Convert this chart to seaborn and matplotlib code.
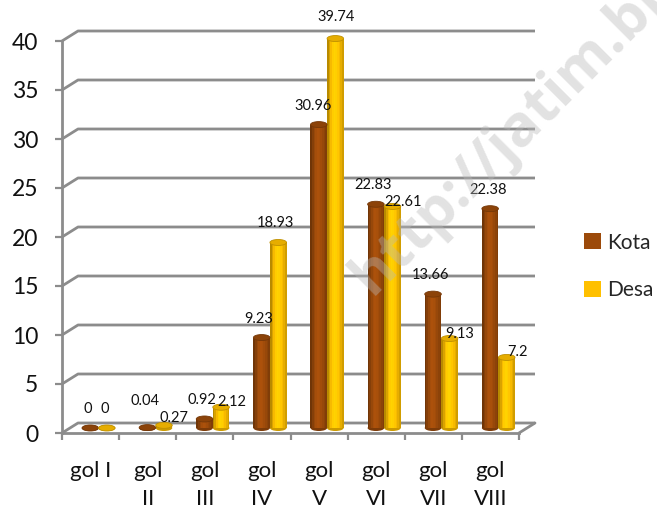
import numpy as np
import pandas as pd
import matplotlib
matplotlib.use("Agg")
import matplotlib.pyplot as plt
import matplotlib.transforms as mtransforms
from matplotlib.patches import Ellipse, Patch, Rectangle
import seaborn as sns

# ---------------- data ----------------
categories = ["gol I", "gol\nII", "gol\nIII", "gol\nIV", "gol\nV", "gol\nVI", "gol\nVII", "gol\nVIII"]
kota = [0, 0.04, 0.92, 9.23, 30.96, 22.83, 13.66, 22.38]
desa = [0, 0.27, 2.12, 18.93, 39.74, 22.61, 9.13, 7.2]
series_names = ["Kota", "Desa"]
y_ticks = [0, 5, 10, 15, 20, 25, 30, 35, 40]

# label nudges in pixels (dx, dy) – reproduce the original label placement
kota_nudge = [(0, 0), (0, 8), (0, 0), (0, 0), (-3, 0), (0, 0), (0, 0), (0, 0)]
desa_nudge = [(0, 0), (13, -12), (13, -14), (0, 0), (3, 3), (13, -15), (13, -14), (13, -14)]

kota_color = "#9C4A0A"
desa_color = "#FFC000"
grid_color = "#8C8C8C"

df = pd.DataFrame({
    "kategori": categories * 2,
    "nilai": kota + desa,
    "wilayah": [series_names[0]] * len(categories) + [series_names[1]] * len(categories),
})

sns.set_theme(style="white")
plt.rcParams["font.family"] = ["Lato", "DejaVu Sans"]

W, H = 657, 512
fig = plt.figure(figsize=(W / 100, H / 100), dpi=100)
ax = fig.add_axes([62 / W, 79 / H, 457 / W, 392 / H])

sns.barplot(data=df, x="kategori", y="nilai", hue="wilayah",
            palette=[kota_color, desa_color], width=0.58, saturation=1,
            ax=ax, legend=False, zorder=3, edgecolor="none")

n = len(categories)
ax.set_xlim(-0.5, n - 0.5)
ax.set_ylim(0, 40)

px_x = n / 457.0
px_y = 40 / 392.0

def pix(dx, dy):
    return mtransforms.ScaledTranslation(dx / 100, dy / 100, fig.dpi_scale_trans)

# ---------------- 3D-like grid ----------------
gdx, gdy = 16 * px_x, 10 * px_y
x0, x1 = -0.5, n - 0.5
for v in y_ticks:
    ax.plot([x0, x0 + gdx, x1 + gdx], [v, v + gdy, v + gdy], color=grid_color,
            lw=2, clip_on=False, zorder=1, solid_capstyle="butt")
ax.plot([x1, x1 + gdx], [0, gdy], color=grid_color, lw=2, clip_on=False, zorder=1)

# ---------------- bars as cylinders ----------------
bar_off = pix(8, 5)
bars = sorted(list(ax.patches), key=lambda p: p.get_x())

def shade(c, f):
    c = np.array(matplotlib.colors.to_rgb(c))
    return tuple(np.clip(c * f, 0, 1))

prof = [0.72, 0.85, 0.97, 1.06, 1.1, 1.08, 1.03, 0.97, 0.9, 0.82]
for p in bars:
    p.set_transform(ax.transData + bar_off)
    p.set_clip_on(False)
    fc = p.get_facecolor()[:3]
    x, w, h = p.get_x(), p.get_width(), p.get_height()
    if h > 0:
        k = len(prof)
        for j, f in enumerate(prof):
            r = Rectangle((x + j * w / k, 0), w / k * 1.02, h, facecolor=shade(fc, f),
                          edgecolor="none", zorder=3.1, clip_on=False)
            r.set_transform(ax.transData + bar_off)
            ax.add_patch(r)
    bot = Ellipse((x + w / 2, 0), w, 6 * px_y, facecolor=shade(fc, 0.8),
                  edgecolor="none", zorder=2.9, clip_on=False)
    bot.set_transform(ax.transData + bar_off)
    ax.add_patch(bot)
    top = Ellipse((x + w / 2, h), w, 6 * px_y, facecolor=shade(fc, 0.9),
                  edgecolor=shade(fc, 0.75), lw=0.6, zorder=3.3, clip_on=False)
    top.set_transform(ax.transData + bar_off)
    ax.add_patch(top)

# ---------------- labels ----------------
hw = 0.58 / 4
for i in range(n):
    for vals, nud, sign in ((kota, kota_nudge, -1), (desa, desa_nudge, 1)):
        v = vals[i]
        dx, dy = nud[i]
        t = ax.text(i + sign * hw, v, f"{v:g}", ha="center", va="center",
                    fontsize=10.5, color="#111111", zorder=5, clip_on=False)
        t.set_transform(ax.transData + pix(5.5 + dx, 24 + dy))

# ---------------- axes styling ----------------
for s in ("top", "right"):
    ax.spines[s].set_visible(False)
for s in ("left", "bottom"):
    ax.spines[s].set_color(grid_color)
    ax.spines[s].set_linewidth(2)
    ax.spines[s].set_zorder(2)

ax.set_yticks(y_ticks)
ax.set_yticklabels([str(t) for t in y_ticks])
ax.set_xticks(range(n))
ax.set_xticklabels(categories, linespacing=1.5)
ax.set_xticks(np.arange(-0.5, n, 1), minor=True)
ax.tick_params(axis="y", which="major", length=5, width=1.6, color=grid_color,
               direction="out", pad=12, labelsize=16.5, labelcolor="#111111", left=True)
ax.tick_params(axis="x", which="major", length=0, pad=20, labelsize=16, labelcolor="#111111")
ax.tick_params(axis="x", which="minor", length=5, width=1.6, color=grid_color,
               direction="out", bottom=True)
ax.set_xlabel("")
ax.set_ylabel("")
ax.grid(False)
ax.set_facecolor("none")

# ---------------- legend ----------------
handles = [Patch(facecolor=kota_color, edgecolor="none"),
           Patch(facecolor=desa_color, edgecolor="none")]
fig.legend(handles, series_names, loc="center left", bbox_to_anchor=(584 / W, 0.48),
           frameon=False, fontsize=15, handlelength=0.8, handleheight=0.8,
           handletextpad=0.3, labelspacing=1.3, borderpad=0, borderaxespad=0)

# ---------------- watermark ----------------
fig.text(372 / W, 1 - 296 / H, "http://jatim.bps.go.id", rotation=45,
         rotation_mode="anchor", ha="left", va="baseline", fontsize=42,
         fontweight="bold", color="#b8b8b8", alpha=0.4, zorder=10,
         family=["Open Sans", "DejaVu Sans"])

fig.savefig("out.png", dpi=100)
